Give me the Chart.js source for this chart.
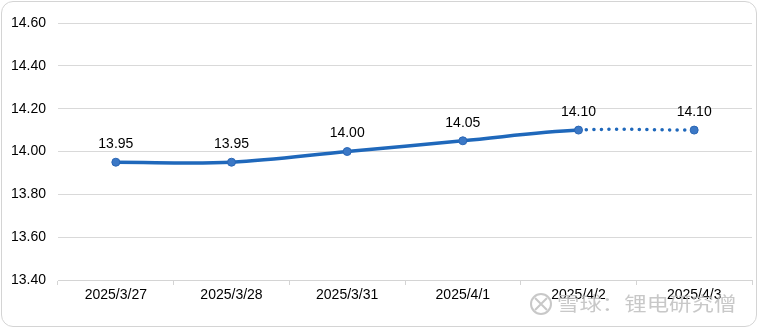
<!DOCTYPE html>
<html>
<head>
<meta charset="utf-8">
<script src="https://cdn.jsdelivr.net/npm/chart.js@4"></script>
<style>
  html, body { margin: 0; padding: 0; background: #fff; }
  #wrap { position: relative; width: 758px; height: 328px; }
  #frame { position: absolute; left: 1px; top: 1px; width: 754px; height: 324px;
           border: 1px solid #d4d4d4; border-radius: 12px; pointer-events: none; }
  canvas { position: absolute; left: 0; top: 0; }
</style>
</head>
<body>
<div id="wrap">
  <canvas id="chart" width="758" height="328"></canvas>
  <div id="frame"></div>
</div>
<script>
var dates = ['2025/3/27', '2025/3/28', '2025/3/31', '2025/4/1', '2025/4/2', '2025/4/3'];
var prices = [13.95, 13.95, 14.00, 14.05, 14.10, 14.10];
var yTicks = [13.40, 13.60, 13.80, 14.00, 14.20, 14.40, 14.60];
var watermark = '雪球：锂电研究僧';

var lineBlue = '#1f68bb';
var fontFamily = '"Liberation Sans", Arial, sans-serif';

// value labels above each point, plus the watermark
var valueLabels = {
    id: 'valueLabels',
    afterDatasetsDraw: function (chart) {
        var ctx = chart.ctx;
        var meta = chart.getDatasetMeta(0);
        ctx.save();
        ctx.font = '14px ' + fontFamily;
        ctx.fillStyle = '#000';
        ctx.textAlign = 'center';
        ctx.textBaseline = 'middle';
        meta.data.forEach(function (pt, i) {
            ctx.fillText(prices[i].toFixed(2), pt.x, pt.y - 18);
        });
        ctx.restore();
    },
    afterDraw: function (chart) {
        var ctx = chart.ctx;
        ctx.save();
        ctx.strokeStyle = 'rgba(190,190,190,0.85)';
        ctx.lineWidth = 2;
        ctx.beginPath();
        ctx.arc(541, 304, 10, 0, Math.PI * 2);
        ctx.stroke();
        ctx.beginPath();
        ctx.moveTo(535, 298); ctx.lineTo(547, 310);
        ctx.moveTo(547, 298); ctx.lineTo(535, 310);
        ctx.stroke();
        ctx.translate(557, 304);
        ctx.scale(1.18, 1);
        ctx.font = '19px "Noto Sans CJK SC", sans-serif';
        ctx.fillStyle = 'rgba(190,190,190,0.85)';
        ctx.textAlign = 'left';
        ctx.textBaseline = 'middle';
        ctx.fillText(watermark, 0, 0);
        ctx.restore();
    }
};

var ctx = document.getElementById('chart').getContext('2d');
window.priceChart = new Chart(ctx, {
    type: 'line',
    data: {
        labels: dates,
        datasets: [{
            data: prices,
            borderColor: lineBlue,
            borderWidth: 3.5,
            tension: 0.35,
            pointRadius: 4,
            pointBackgroundColor: '#3b78c6',
            pointBorderColor: '#2a66b4',
            pointBorderWidth: 1,
            segment: {
                borderDash: function (c) { return c.p1DataIndex === prices.length - 1 ? [0.1, 7.5] : undefined; },
                borderCapStyle: function (c) { return c.p1DataIndex === prices.length - 1 ? 'round' : 'butt'; }
            }
        }]
    },
    options: {
        responsive: false,
        animation: false,
        layout: { padding: { left: 0, right: 6, top: 23, bottom: 0 } },
        plugins: { legend: { display: false }, tooltip: { enabled: false } },
        scales: {
            x: {
                offset: true,
                grid: { offset: true, drawOnChartArea: false, drawTicks: true, tickLength: 5, color: '#d4d4d4' },
                border: { display: true, color: '#d4d4d4' },
                ticks: { color: '#000', padding: 2, font: { size: 14, family: fontFamily }, maxRotation: 0 },
                afterFit: function (s) { s.height = 48; }
            },
            y: {
                min: 13.4,
                max: 14.6,
                afterBuildTicks: function (s) { s.ticks = yTicks.map(function (v) { return { value: v }; }); },
                grid: { color: '#d9d9d9', drawTicks: false },
                border: { display: false },
                ticks: {
                    color: '#000',
                    padding: 12,
                    font: { size: 14, family: fontFamily },
                    callback: function (v) { return Number(v).toFixed(2); }
                },
                afterFit: function (s) { s.width = 58; }
            }
        }
    },
    plugins: [valueLabels]
});
</script>
</body>
</html>
